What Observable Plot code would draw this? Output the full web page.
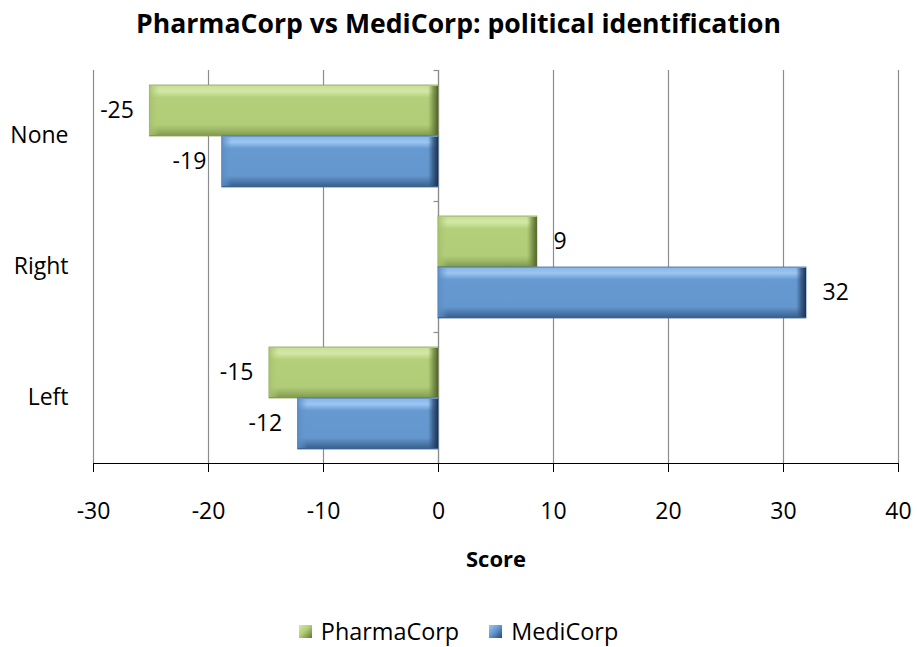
<!DOCTYPE html>
<html>
<head>
<meta charset="utf-8">
<script src="https://cdn.jsdelivr.net/npm/d3@7"></script>
<script src="https://cdn.jsdelivr.net/npm/@observablehq/plot@0.6"></script>
<style>
  html, body { margin: 0; padding: 0; background: #fff; }
  body { width: 917px; height: 647px; overflow: hidden; font-family: "Open Sans", sans-serif; color: #000; }
  #title { position: absolute; left: 0; top: 0; width: 917px; height: 46px; text-align: center; font-weight: bold; font-size: 26.6px; line-height: 46px; }
  #chart { position: absolute; left: 0; top: 0; }
  #legend { position: absolute; left: 0; top: 613px; width: 917px; height: 36px; display: flex; justify-content: center; align-items: center; font-size: 23.4px; }
  .item { display: flex; align-items: center; margin: 0 15px; }
  .sw { width: 13px; height: 13px; margin-right: 9px; box-sizing: border-box; }
</style>
</head>
<body>
<div id="chart"></div>
<div id="title">PharmaCorp vs MediCorp: political identification</div>
<div id="legend"></div>
<script>
const categories = ["None", "Right", "Left"];
const seriesNames = ["PharmaCorp", "MediCorp"];
const pharmaValues = [-25.1, 8.6, -14.7];
const mediValues = [-18.8, 32.0, -12.2];
const xTicks = [-30, -20, -10, 0, 10, 20, 30, 40];
const xLabel = "Score";
const seriesColors = { PharmaCorp: "url(#gGreen)", MediCorp: "url(#gBlue)" };
const seriesStroke = { PharmaCorp: "#8aa352", MediCorp: "#3e6a9c" };

const rows = [];
categories.forEach((c, i) => {
  rows.push({ category: c, series: "PharmaCorp", value: pharmaValues[i] });
  rows.push({ category: c, series: "MediCorp", value: mediValues[i] });
});

const tickLeft = { draw(ctx) { ctx.moveTo(-5, 0); ctx.lineTo(0, 0); } };
const gridColor = "#8c8c8c";

const chart = Plot.plot({
  width: 917,
  height: 610,
  marginTop: 70,
  marginBottom: 147,
  marginLeft: 93,
  marginRight: 19,
  style: { fontFamily: "'Open Sans', sans-serif", fontSize: "23px", color: "#000", background: "#fff" },
  x: { domain: [-30, 40], ticks: xTicks, tickFormat: d => String(d), tickSize: 9, tickPadding: 30, label: null, line: true },
  y: { domain: seriesNames, paddingInner: 0, paddingOuter: 0.26, axis: null },
  fy: { domain: categories, padding: 0, label: null, tickSize: 0, tickPadding: 25 },
  marks: [
    Plot.ruleX(xTicks, { stroke: gridColor, strokeWidth: 1.2 }),
    Plot.ruleX([0], { stroke: gridColor, strokeWidth: 1.2 }),
    Plot.dot([0], { x: d => d, frameAnchor: "top", symbol: tickLeft, fill: "none", stroke: gridColor, strokeWidth: 1.2 }),
    ...seriesNames.map(s => Plot.barX(rows.filter(d => d.series === s), {
      fy: "category", y: "series", x1: 0, x2: "value",
      fill: seriesColors[s], stroke: seriesStroke[s], strokeWidth: 0.8
    })),
    // bevel: dark right edge, light left edge
    ...seriesNames.map(s => Plot.barX(rows.filter(d => d.series === s), {
      fy: "category", y: "series", x1: d => Math.max(d.value, 0), x2: d => Math.max(d.value, 0),
      insetLeft: -10, insetTop: 1, insetBottom: 1, fill: s === "PharmaCorp" ? "url(#rGreen)" : "url(#rBlue)"
    })),
    ...seriesNames.map(s => Plot.barX(rows.filter(d => d.series === s), {
      fy: "category", y: "series", x1: d => Math.min(d.value, 0), x2: d => Math.min(d.value, 0),
      insetRight: -10, insetTop: 1, insetBottom: 1, fill: s === "PharmaCorp" ? "url(#lGreen)" : "url(#lBlue)"
    })),
    Plot.text(rows.filter(d => d.value < 0), {
      fy: "category", y: "series", x: "value", text: d => String(Math.round(d.value)),
      textAnchor: "end", dx: -16, fill: "#000", fontSize: 23
    }),
    Plot.text(rows.filter(d => d.value >= 0), {
      fy: "category", y: "series", x: "value", text: d => String(Math.round(d.value)),
      textAnchor: "start", dx: 16, fill: "#000", fontSize: 23
    })
  ]
});

const ns = "http://www.w3.org/2000/svg";
const defs = document.createElementNS(ns, "defs");
defs.innerHTML = `
  <linearGradient id="gGreen" x1="0" y1="0" x2="0" y2="1">
    <stop offset="0" stop-color="#c6dd98"/>
    <stop offset="0.12" stop-color="#d4e8a6"/>
    <stop offset="0.25" stop-color="#b3cf7a"/>
    <stop offset="0.78" stop-color="#b1cd78"/>
    <stop offset="0.9" stop-color="#98b262"/>
    <stop offset="1" stop-color="#7e974c"/>
  </linearGradient>
  <linearGradient id="gBlue" x1="0" y1="0" x2="0" y2="1">
    <stop offset="0" stop-color="#86b4e6"/>
    <stop offset="0.12" stop-color="#9cc6f2"/>
    <stop offset="0.25" stop-color="#6699d0"/>
    <stop offset="0.78" stop-color="#6497ce"/>
    <stop offset="0.9" stop-color="#4b77aa"/>
    <stop offset="1" stop-color="#375d88"/>
  </linearGradient>
  <linearGradient id="rGreen" x1="0" y1="0" x2="1" y2="0">
    <stop offset="0" stop-color="#7e974c" stop-opacity="0"/>
    <stop offset="0.5" stop-color="#6f8740" stop-opacity="0.75"/>
    <stop offset="1" stop-color="#4f6228" stop-opacity="1"/>
  </linearGradient>
  <linearGradient id="rBlue" x1="0" y1="0" x2="1" y2="0">
    <stop offset="0" stop-color="#375d88" stop-opacity="0"/>
    <stop offset="0.5" stop-color="#2c4d75" stop-opacity="0.75"/>
    <stop offset="1" stop-color="#1a314f" stop-opacity="1"/>
  </linearGradient>
  <linearGradient id="lGreen" x1="0" y1="0" x2="1" y2="0">
    <stop offset="0" stop-color="#a4bf6c" stop-opacity="0.9"/>
    <stop offset="1" stop-color="#b3cf7a" stop-opacity="0"/>
  </linearGradient>
  <linearGradient id="lBlue" x1="0" y1="0" x2="1" y2="0">
    <stop offset="0" stop-color="#5a8cc4" stop-opacity="0.9"/>
    <stop offset="1" stop-color="#6699d0" stop-opacity="0"/>
  </linearGradient>`;
chart.insertBefore(defs, chart.firstChild);
document.getElementById("chart").appendChild(chart);

const scoreText = document.createElementNS(ns, "text");
scoreText.setAttribute("x", 496);
scoreText.setAttribute("y", 561);
scoreText.setAttribute("text-anchor", "middle");
scoreText.setAttribute("dominant-baseline", "middle");
scoreText.setAttribute("font-weight", "bold");
scoreText.setAttribute("font-size", "22");
scoreText.textContent = xLabel;
chart.appendChild(scoreText);

const legend = document.getElementById("legend");
const swatchBg = {
  PharmaCorp: "linear-gradient(135deg, #d4e8a6 0%, #b3cf7a 45%, #5f7a30 100%)",
  MediCorp: "linear-gradient(135deg, #9cc6f2 0%, #6699d0 45%, #274a74 100%)"
};
seriesNames.forEach(s => {
  const item = document.createElement("div");
  item.className = "item";
  const sw = document.createElement("div");
  sw.className = "sw";
  sw.style.background = swatchBg[s];
  const lab = document.createElement("span");
  lab.textContent = s;
  item.appendChild(sw);
  item.appendChild(lab);
  legend.appendChild(item);
});
</script>
</body>
</html>
